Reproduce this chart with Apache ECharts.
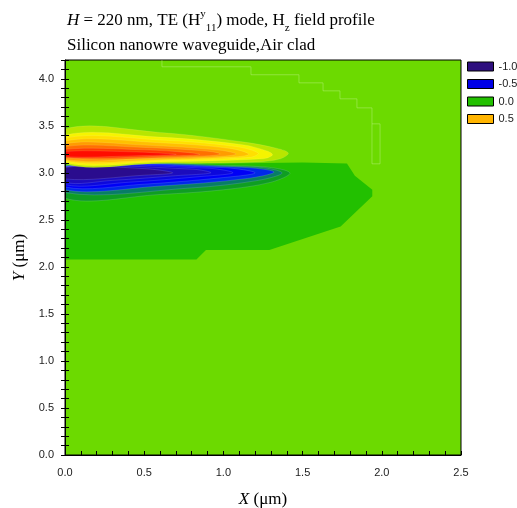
<!DOCTYPE html>
<html>
<head>
<meta charset="utf-8">
<script src="https://cdn.jsdelivr.net/npm/echarts@6/dist/echarts.min.js"></script>
<style>
  html, body { margin: 0; padding: 0; background: #fff; overflow: hidden; }
  #chart { width: 517px; height: 508px; }
</style>
</head>
<body>
<div id="chart"></div>
<script>
// Hz field of the silicon nanowire waveguide, drawn as filled contour bands.
// Every band is a closed outline of [x (μm), y (μm)] vertices, outermost first.

// region just below zero (between 0 and -0.1)
const zeroBand = [
  [0, 3.09], [1.0, 3.10], [1.5, 3.11], [1.78, 3.10], [1.83, 2.97],
  [1.94, 2.82], [1.94, 2.75], [1.74, 2.43], [1.29, 2.18],
  [0.89, 2.18], [0.83, 2.08], [0, 2.08]
];

// negative lobe, from -0.1 down to the core near -1.0
const negativeBands = [
  [[0, 3.075], [0.8, 3.075], [1.25, 3.065], [1.42, 3.0], [1.3, 2.9], [1.0, 2.82], [0.6, 2.77], [0, 2.73]],
  [[0, 3.072], [1.2, 3.062], [1.37, 3.0], [1.22, 2.92], [0.8, 2.84], [0, 2.79]],
  [[0, 3.07], [1.1, 3.06], [1.32, 3.01], [1.15, 2.94], [0.6, 2.86], [0, 2.82]],
  [[0, 3.067], [1.0, 3.055], [1.2, 3.0], [1.0, 2.95], [0.5, 2.88], [0, 2.85]],
  [[0, 3.064], [0.9, 3.05], [1.06, 3.0], [0.85, 2.96], [0.4, 2.9], [0, 2.875]],
  [[0, 3.06], [0.8, 3.04], [0.92, 3.0], [0.7, 2.97], [0.3, 2.92], [0, 2.9]],
  [[0, 3.058], [0.5, 3.045], [0.68, 3.0], [0.5, 2.975], [0, 2.935]]
];

// positive lobe, from +0.1 up to the peak near +1.0
const positiveBands = [
  [[0, 3.465], [0.6, 3.43], [1.12, 3.33], [1.34, 3.26], [1.41, 3.21], [1.36, 3.15], [1.2, 3.115], [0.6, 3.10], [0, 3.10]],
  [[0, 3.40], [0.6, 3.38], [1.12, 3.30], [1.28, 3.23], [1.31, 3.19], [1.25, 3.15], [0.6, 3.115], [0, 3.11]],
  [[0, 3.37], [0.6, 3.35], [1.08, 3.28], [1.22, 3.21], [1.17, 3.165], [0.6, 3.13], [0, 3.125]],
  [[0, 3.34], [0.6, 3.32], [1.04, 3.26], [1.16, 3.2], [1.08, 3.17], [0.6, 3.14], [0, 3.135]],
  [[0, 3.31], [0.5, 3.295], [0.98, 3.24], [1.08, 3.2], [0.98, 3.175], [0.5, 3.15], [0, 3.145]],
  [[0, 3.28], [0.5, 3.27], [0.9, 3.23], [0.98, 3.2], [0.88, 3.18], [0, 3.155]],
  [[0, 3.25], [0.5, 3.245], [0.78, 3.215], [0.85, 3.195], [0.7, 3.182], [0, 3.163]],
  [[0, 3.228], [0.45, 3.222], [0.64, 3.205], [0.7, 3.195], [0.45, 3.182], [0, 3.172]]
];

// faint mesh outline in the upper right of the domain
const meshEdge = [
  [0.612, 4.2], [0.612, 4.128], [1.174, 4.128], [1.174, 4.043], [1.477, 4.043],
  [1.477, 3.957], [1.629, 3.957], [1.629, 3.872], [1.736, 3.872], [1.736, 3.787],
  [1.843, 3.787], [1.843, 3.691], [1.938, 3.691], [1.938, 3.096]
];
const meshBox = [[1.938, 3.521], [1.989, 3.521], [1.989, 3.096], [1.938, 3.096]];

const legendLevels = ['-1.0', '-0.5', '0.0', '0.5'];
const xRange = [0, 2.5];
const yRange = [0, 4.2];

// colours
const backgroundGreen = '#6CDA00';
const zeroColor = '#22C000';
const negativeColors = ['#0F9E22', '#087D66', '#0028E8', '#0000F6', '#0C08DC', '#1C0CBE', '#2A0C8E'];
const positiveColors = ['#B8E600', '#F6F400', '#FFE000', '#FFC000', '#FF9C00', '#FF7000', '#FF3C00', '#FF0C00'];
const legendColors = ['#2E0F7E', '#0000E6', '#22C000', '#FFB400'];

function bandSeries(name, rings, colors, smooth, stroke) {
  return {
    type: 'custom',
    name: name,
    coordinateSystem: 'cartesian2d',
    clip: true,
    silent: true,
    z: 2,
    data: rings.map((r, i) => [r[0][0], r[0][1], i]),
    renderItem: function (params, api) {
      const pts = rings[params.dataIndex].map(p => api.coord(p));
      return {
        type: 'polygon',
        shape: { points: pts, smooth: smooth },
        style: { fill: colors[params.dataIndex], stroke: stroke, lineWidth: stroke ? 0.6 : 0 }
      };
    }
  };
}

function halfStepLabel(v) {
  return Math.abs(v * 2 - Math.round(v * 2)) < 1e-6 ? v.toFixed(1) : '';
}

const chart = echarts.init(document.getElementById('chart'), null, { renderer: 'canvas', width: 517, height: 508 });

const series = [
  bandSeries('zero', [zeroBand], [zeroColor], 0, null),
  bandSeries('negative', negativeBands, negativeColors, 0.35, 'rgba(190,200,255,0.3)'),
  bandSeries('positive', positiveBands, positiveColors, 0.35, 'rgba(255,255,210,0.2)'),
  {
    type: 'line', name: 'mesh', data: meshEdge, symbol: 'none', silent: true, z: 3,
    lineStyle: { color: 'rgba(200,245,150,0.4)', width: 1 }
  },
  {
    type: 'line', name: 'mesh2', data: meshBox, symbol: 'none', silent: true, z: 3,
    lineStyle: { color: 'rgba(200,245,150,0.4)', width: 1 }
  }
];
legendLevels.forEach((name, i) => {
  series.push({ type: 'custom', name: name, data: [], renderItem: () => null,
    itemStyle: { color: legendColors[i] } });
});

const tickFont = { fontFamily: 'Liberation Sans', fontSize: 11, color: '#222' };

chart.setOption({
  animation: false,
  backgroundColor: '#fff',
  title: {
    left: 67, top: 8.5, padding: 0,
    text: '{i|H} = 220 nm, TE (H{sup|y}{sub|11}) mode, H{sub|z} field profile\nSilicon nanowre waveguide,Air clad',
    textStyle: {
      fontFamily: 'Liberation Serif', fontSize: 17, fontWeight: 'normal', color: '#000', lineHeight: 25,
      rich: {
        i: { fontFamily: 'Liberation Serif', fontSize: 17, fontStyle: 'italic', color: '#000', lineHeight: 25 },
        sup: { fontFamily: 'Liberation Serif', fontSize: 11, color: '#000', lineHeight: 14, verticalAlign: 'top' },
        sub: { fontFamily: 'Liberation Serif', fontSize: 11, color: '#000', lineHeight: 14, verticalAlign: 'bottom' }
      }
    }
  },
  legend: {
    orient: 'vertical', left: 467, top: 61, padding: 0,
    itemWidth: 26, itemHeight: 9, itemGap: 6.5,
    icon: 'rect',
    selectedMode: false,
    textStyle: { fontFamily: 'Liberation Sans', fontSize: 11, color: '#222' },
    data: legendLevels.map((name, i) => ({
      name: name,
      itemStyle: { color: legendColors[i], borderColor: '#000', borderWidth: 1 }
    }))
  },
  grid: {
    left: 65, top: 60, width: 396, height: 395,
    containLabel: false, outerBoundsMode: 'none',
    show: true, backgroundColor: backgroundGreen, borderColor: '#000', borderWidth: 1
  },
  xAxis: [{
    type: 'value', min: xRange[0], max: xRange[1], interval: 0.1, z: 10,
    axisLine: { show: true, lineStyle: { color: '#000', width: 1 } },
    axisTick: { show: true, inside: true, length: 4, lineStyle: { color: '#000' } },
    axisLabel: Object.assign({ margin: 12, formatter: halfStepLabel }, tickFont),
    splitLine: { show: false },
    name: '{i|X} (μm)', nameLocation: 'middle', nameGap: 36,
    nameTextStyle: {
      fontFamily: 'Liberation Serif', fontSize: 17, color: '#000',
      rich: { i: { fontFamily: 'Liberation Serif', fontSize: 17, fontStyle: 'italic', color: '#000' } }
    }
  }],
  yAxis: [{
    type: 'value', min: yRange[0], max: yRange[1], interval: 0.1, z: 10,
    axisLine: { show: true, lineStyle: { color: '#000', width: 1 } },
    axisTick: { show: true, inside: false, length: 4, lineStyle: { color: '#000' } },
    axisLabel: Object.assign({ margin: 11, formatter: halfStepLabel }, tickFont),
    splitLine: { show: false },
    name: '{i|Y} (μm)', nameLocation: 'middle', nameGap: 34, nameRotate: 90,
    nameTextStyle: {
      fontFamily: 'Liberation Serif', fontSize: 17, color: '#000',
      rich: { i: { fontFamily: 'Liberation Serif', fontSize: 17, fontStyle: 'italic', color: '#000' } }
    }
  }, {
    type: 'value', min: yRange[0], max: yRange[1], interval: 0.1, z: 10, position: 'left',
    axisLine: { show: false },
    axisTick: { show: true, inside: true, length: 4, lineStyle: { color: '#000' } },
    axisLabel: { show: false },
    splitLine: { show: false }
  }],
  series: series
});
</script>
</body>
</html>
